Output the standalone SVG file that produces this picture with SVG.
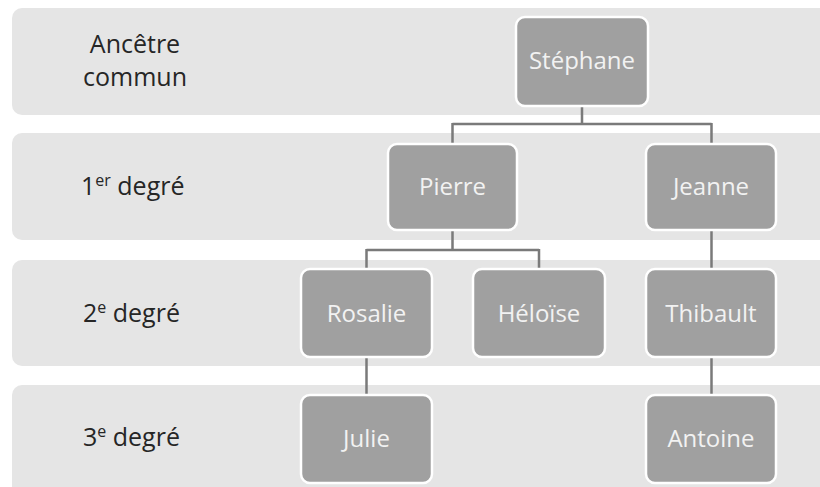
<svg xmlns="http://www.w3.org/2000/svg" width="820" height="487" viewBox="0 0 820 487">
<style>
.band{fill:#e5e5e5}
.lbl{font-family:"Open Sans","DejaVu Sans",sans-serif;font-size:25px;fill:#262626}
.sup{font-size:16px}
.node rect{fill:#a0a0a0;stroke:#ffffff;stroke-width:2.5}
.node text{font-family:"Open Sans","DejaVu Sans",sans-serif;font-size:24px;fill:#f2f2f2;text-anchor:middle}
.conn{fill:none;stroke:#7a7a7a;stroke-width:2.5}
</style>
<rect width="820" height="487" fill="#ffffff"/>
<g id="bands">
<rect class="band" x="12" y="8" width="820" height="107" rx="10"/>
<rect class="band" x="12" y="133" width="820" height="107" rx="10"/>
<rect class="band" x="12" y="260" width="820" height="106" rx="10"/>
<rect class="band" x="12" y="385" width="820" height="120" rx="10"/>
</g>
<g id="labels">
<text class="lbl" x="135" y="53" text-anchor="middle">Ancêtre</text>
<text class="lbl" x="135" y="86" text-anchor="middle">commun</text>
<text class="lbl" x="81" y="195">1<tspan class="sup" dy="-9">er</tspan><tspan dy="9"> degré</tspan></text>
<text class="lbl" x="83" y="322">2<tspan class="sup" dy="-9">e</tspan><tspan dy="9"> degré</tspan></text>
<text class="lbl" x="83" y="446">3<tspan class="sup" dy="-9">e</tspan><tspan dy="9"> degré</tspan></text>
</g>
<g id="connectors">
<path class="conn" d="M582 106V124M452.5 124H711.5M452.5 123V144M711.5 123V144"/>
<path class="conn" d="M452.5 230V250M366.5 250H539M366.5 249V269M539 249V269"/>
<path class="conn" d="M711.5 230V269"/>
<path class="conn" d="M366.5 357V395"/>
<path class="conn" d="M711.5 357V395"/>
</g>
<g id="stephane" class="node"><rect x="516" y="17" width="132" height="89" rx="9"/><text x="582" y="69">Stéphane</text></g>
<g id="pierre" class="node"><rect x="388" y="144" width="129" height="86" rx="9"/><text x="452.5" y="195">Pierre</text></g>
<g id="jeanne" class="node"><rect x="646" y="144" width="130" height="86" rx="9"/><text x="711" y="195">Jeanne</text></g>
<g id="rosalie" class="node"><rect x="301" y="269" width="131" height="88" rx="9"/><text x="366.5" y="322">Rosalie</text></g>
<g id="heloise" class="node"><rect x="473" y="269" width="132" height="88" rx="9"/><text x="539" y="322">Héloïse</text></g>
<g id="thibault" class="node"><rect x="646" y="269" width="130" height="88" rx="9"/><text x="711" y="322">Thibault</text></g>
<g id="julie" class="node"><rect x="301" y="395" width="131" height="88" rx="9"/><text x="366.5" y="447">Julie</text></g>
<g id="antoine" class="node"><rect x="646" y="395" width="130" height="88" rx="9"/><text x="711" y="447">Antoine</text></g>
</svg>
